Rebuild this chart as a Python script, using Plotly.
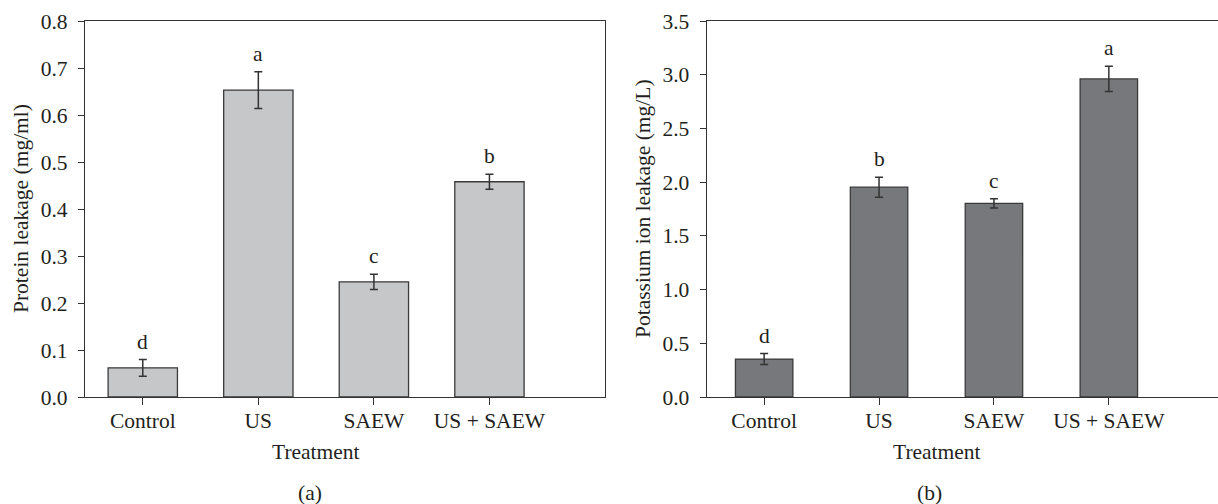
import plotly.graph_objects as go

categories = ["Control", "US", "SAEW", "US + SAEW"]
protein = [0.062, 0.653, 0.245, 0.458]
protein_err = [0.0177, 0.039, 0.0163, 0.016]
protein_letters = ["d", "a", "c", "b"]
potassium = [0.353, 1.953, 1.802, 2.961]
potassium_err = [0.051, 0.093, 0.043, 0.118]
potassium_letters = ["d", "b", "c", "a"]

FONT = "Liberation Serif"
TXT = "#231f20"
LINE = "#333333"
W, H = 1218, 504
FS = 21.5

fig = go.Figure()
fig.add_trace(go.Bar(
    x=categories, y=protein, width=0.6,
    marker=dict(color="#c6c7c9", line=dict(color="#3a3a3a", width=1.3)),
    error_y=dict(type="data", array=protein_err, color=LINE, thickness=1.5, width=4),
    xaxis="x", yaxis="y", showlegend=False))
fig.add_trace(go.Bar(
    x=categories, y=potassium, width=0.5,
    marker=dict(color="#77787b", line=dict(color="#3a3a3a", width=1.3)),
    error_y=dict(type="data", array=potassium_err, color=LINE, thickness=1.5, width=4),
    xaxis="x2", yaxis="y2", showlegend=False))

ann = []
for c, v, e, t in zip(categories, protein, protein_err, protein_letters):
    ann.append(dict(x=c, y=v + e, xref="x", yref="y", text=t, showarrow=False,
                    yanchor="bottom", yshift=4, font=dict(family=FONT, size=FS, color=TXT)))
for c, v, e, t in zip(categories, potassium, potassium_err, potassium_letters):
    ann.append(dict(x=c, y=v + e, xref="x2", yref="y2", text=t, showarrow=False,
                    yanchor="bottom", yshift=4, font=dict(family=FONT, size=FS, color=TXT)))

# axis titles and panel labels
ann += [
    dict(x=21 / W, y=0.5, xref="paper", yref="paper", text="Protein leakage (mg/ml)",
         textangle=-90, showarrow=False, xanchor="center", yanchor="middle",
         font=dict(family=FONT, size=FS, color=TXT)),
    dict(x=643 / W, y=0.5, xref="paper", yref="paper", text="Potassium ion leakage (mg/L)",
         textangle=-90, showarrow=False, xanchor="center", yanchor="middle",
         font=dict(family=FONT, size=FS, color=TXT)),
    dict(x=1.5, y=-0.146, xref="x", yref="paper", text="Treatment", showarrow=False,
         xanchor="center", yanchor="middle", font=dict(family=FONT, size=FS, color=TXT)),
    dict(x=1.5, y=-0.146, xref="x2", yref="paper", text="Treatment", showarrow=False,
         xanchor="center", yanchor="middle", font=dict(family=FONT, size=FS, color=TXT)),
    dict(x=310 / W, y=-0.255, xref="paper", yref="paper", text="(a)", showarrow=False,
         xanchor="center", yanchor="middle", font=dict(family=FONT, size=FS, color=TXT)),
    dict(x=929 / W, y=-0.255, xref="paper", yref="paper", text="(b)", showarrow=False,
         xanchor="center", yanchor="middle", font=dict(family=FONT, size=FS, color=TXT)),
]

xcommon = dict(type="category", showline=True, linecolor=LINE, linewidth=1.3,
               ticks="outside", ticklen=7, tickwidth=1.3, tickcolor=LINE,
               showgrid=False, zeroline=False, ticklabelstandoff=-3,
               tickfont=dict(family=FONT, size=FS, color=TXT), fixedrange=True)
ycommon = dict(showline=True, linecolor=LINE, linewidth=1.3,
               ticks="outside", ticklen=6, tickwidth=1.3, tickcolor=LINE,
               showgrid=False, zeroline=False, ticklabelstandoff=6,
               tickfont=dict(family=FONT, size=FS, color=TXT), fixedrange=True)

fig.update_layout(
    width=W, height=H,
    margin=dict(l=0, r=0, t=21, b=107),
    paper_bgcolor="white", plot_bgcolor="white",
    xaxis=dict(xcommon, domain=[85 / W, 605 / W], range=[-0.5, 4.0], mirror=True,
               anchor="y", categoryorder="array", categoryarray=categories),
    yaxis=dict(ycommon, domain=[0, 1], range=[0, 0.8], dtick=0.1, tickformat=".1f",
               mirror=True, anchor="x"),
    xaxis2=dict(xcommon, domain=[706.7 / W, 1.0], range=[-0.5, 3.95], mirror=True,
                anchor="y2", categoryorder="array", categoryarray=categories),
    yaxis2=dict(ycommon, domain=[0, 1], range=[0, 3.5], dtick=0.5, tickformat=".1f",
                mirror=False, anchor="x2"),
    annotations=ann,
    bargap=0.4,
)

fig.write_html("out.html")
